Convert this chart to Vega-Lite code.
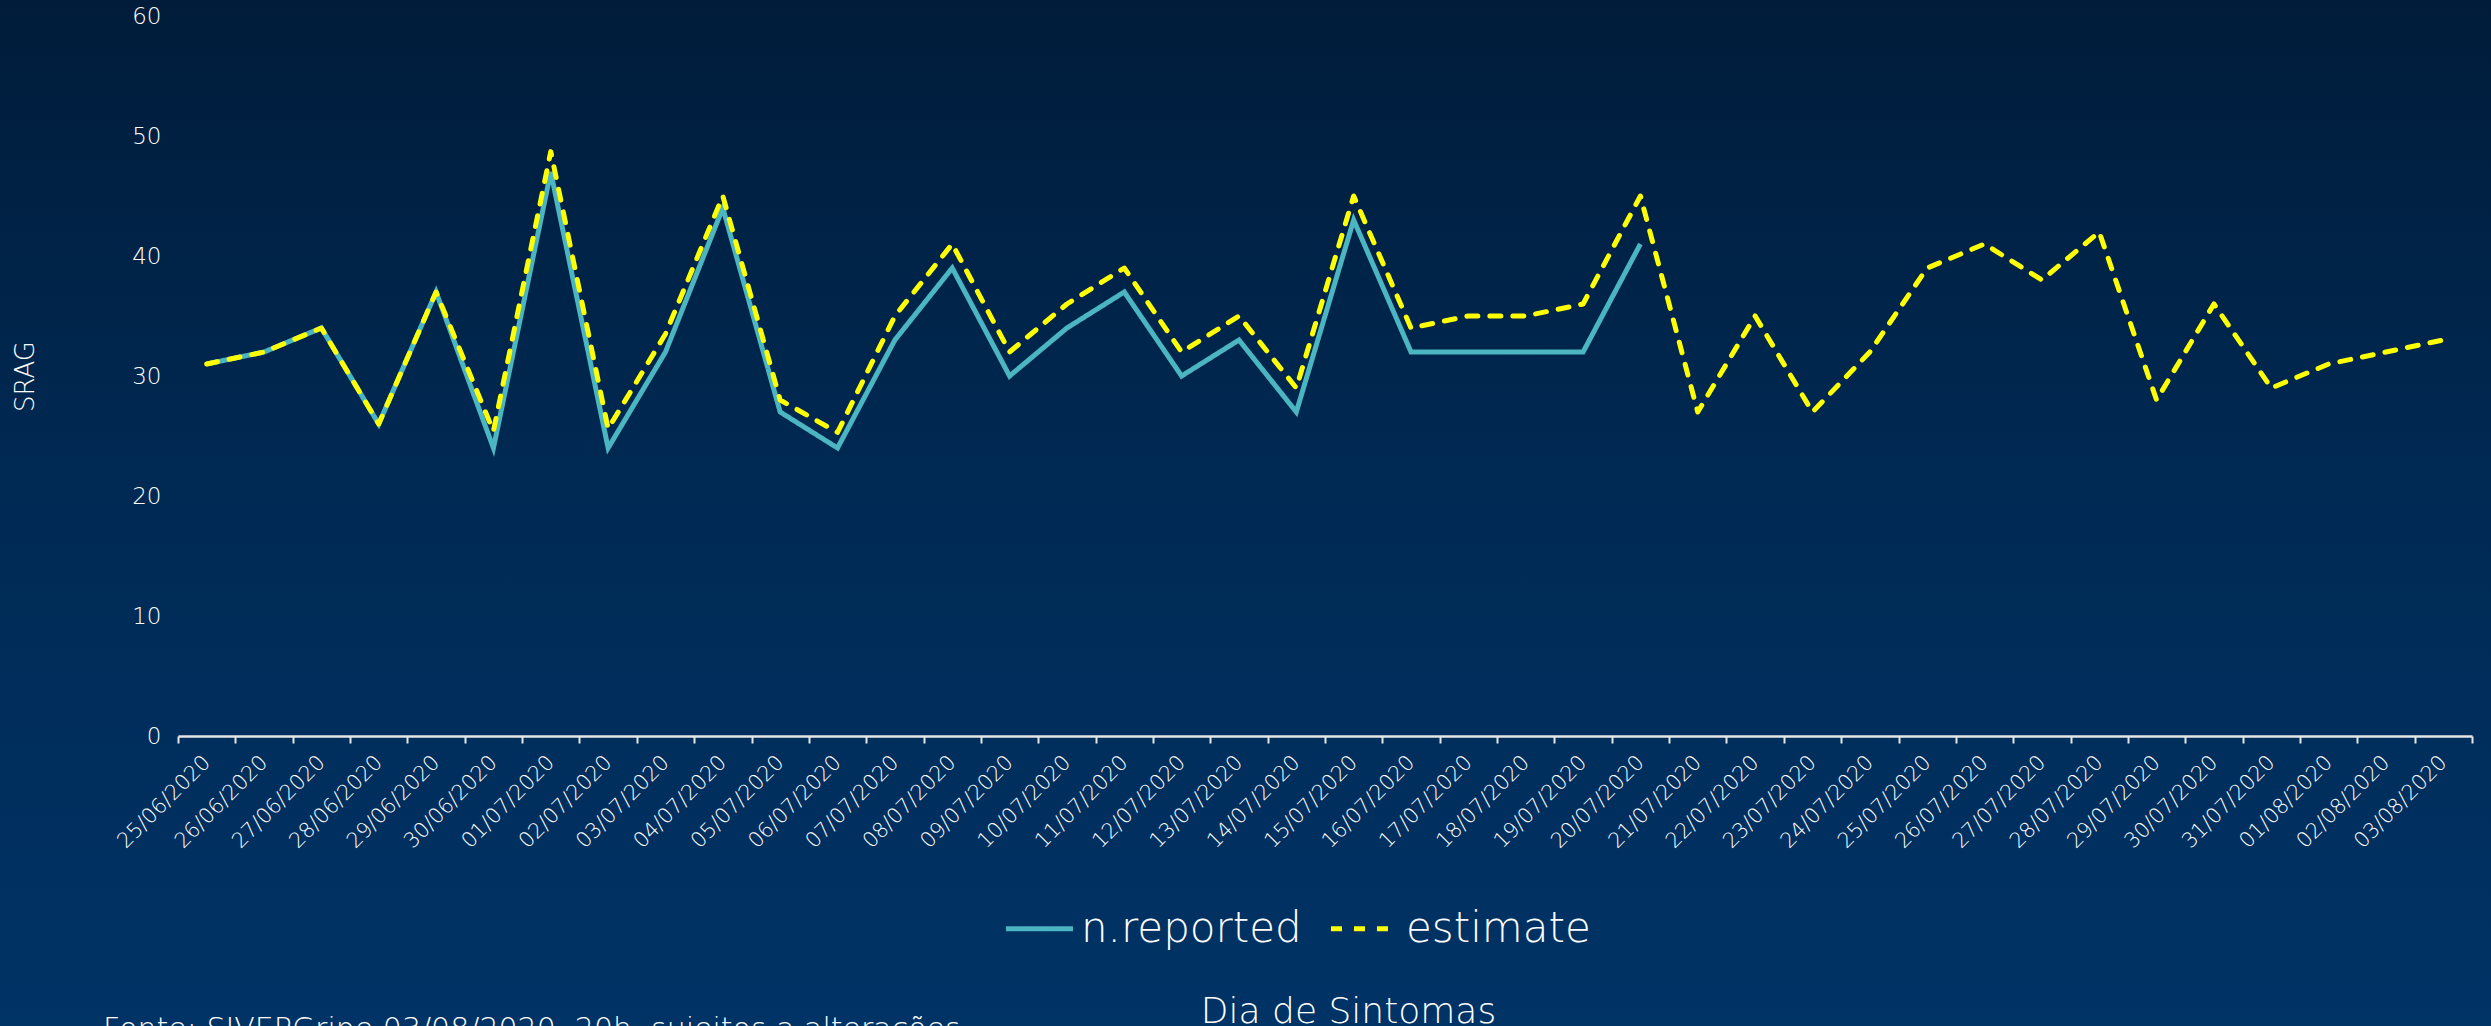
{
  "$schema": "https://vega.github.io/schema/vega-lite/v6.json",
  "width": 2491,
  "height": 1026,
  "autosize": "none",
  "padding": 0,
  "background": "#003366",
  "view": {"stroke": null, "fill": {"gradient": "linear", "x1": 0, "y1": 0, "x2": 0, "y2": 1, "stops": [{"offset": 0, "color": "#001c3a"}, {"offset": 0.5, "color": "#002a55"}, {"offset": 1, "color": "#003366"}]}},
  "config": {"font": "DejaVu Sans"},
  "title": {"text": "Fonte: SIVEPGripe 03/08/2020, 20h, sujeitos a alterações", "orient": "bottom", "anchor": "start", "frame": "group", "dx": 103, "offset": 10, "baseline": "alphabetic", "fontSize": 30, "fontWeight": 200, "color": "#ffffff"},
  "data": {"values": [
    {"date": "25/06/2020", "series": "n.reported", "value": 31},
    {"date": "26/06/2020", "series": "n.reported", "value": 32},
    {"date": "27/06/2020", "series": "n.reported", "value": 34},
    {"date": "28/06/2020", "series": "n.reported", "value": 26},
    {"date": "29/06/2020", "series": "n.reported", "value": 37},
    {"date": "30/06/2020", "series": "n.reported", "value": 24},
    {"date": "01/07/2020", "series": "n.reported", "value": 47},
    {"date": "02/07/2020", "series": "n.reported", "value": 24},
    {"date": "03/07/2020", "series": "n.reported", "value": 32},
    {"date": "04/07/2020", "series": "n.reported", "value": 44},
    {"date": "05/07/2020", "series": "n.reported", "value": 27},
    {"date": "06/07/2020", "series": "n.reported", "value": 24},
    {"date": "07/07/2020", "series": "n.reported", "value": 33},
    {"date": "08/07/2020", "series": "n.reported", "value": 39},
    {"date": "09/07/2020", "series": "n.reported", "value": 30},
    {"date": "10/07/2020", "series": "n.reported", "value": 34},
    {"date": "11/07/2020", "series": "n.reported", "value": 37},
    {"date": "12/07/2020", "series": "n.reported", "value": 30},
    {"date": "13/07/2020", "series": "n.reported", "value": 33},
    {"date": "14/07/2020", "series": "n.reported", "value": 27},
    {"date": "15/07/2020", "series": "n.reported", "value": 43},
    {"date": "16/07/2020", "series": "n.reported", "value": 32},
    {"date": "17/07/2020", "series": "n.reported", "value": 32},
    {"date": "18/07/2020", "series": "n.reported", "value": 32},
    {"date": "19/07/2020", "series": "n.reported", "value": 32},
    {"date": "20/07/2020", "series": "n.reported", "value": 41},
    {"date": "25/06/2020", "series": "estimate", "value": 31},
    {"date": "26/06/2020", "series": "estimate", "value": 32},
    {"date": "27/06/2020", "series": "estimate", "value": 34},
    {"date": "28/06/2020", "series": "estimate", "value": 26},
    {"date": "29/06/2020", "series": "estimate", "value": 37},
    {"date": "30/06/2020", "series": "estimate", "value": 25.4},
    {"date": "01/07/2020", "series": "estimate", "value": 48.7},
    {"date": "02/07/2020", "series": "estimate", "value": 25.6},
    {"date": "03/07/2020", "series": "estimate", "value": 33.5},
    {"date": "04/07/2020", "series": "estimate", "value": 45},
    {"date": "05/07/2020", "series": "estimate", "value": 28},
    {"date": "06/07/2020", "series": "estimate", "value": 25.3},
    {"date": "07/07/2020", "series": "estimate", "value": 35},
    {"date": "08/07/2020", "series": "estimate", "value": 41},
    {"date": "09/07/2020", "series": "estimate", "value": 32},
    {"date": "10/07/2020", "series": "estimate", "value": 36},
    {"date": "11/07/2020", "series": "estimate", "value": 39},
    {"date": "12/07/2020", "series": "estimate", "value": 32},
    {"date": "13/07/2020", "series": "estimate", "value": 35},
    {"date": "14/07/2020", "series": "estimate", "value": 29},
    {"date": "15/07/2020", "series": "estimate", "value": 45},
    {"date": "16/07/2020", "series": "estimate", "value": 34},
    {"date": "17/07/2020", "series": "estimate", "value": 35},
    {"date": "18/07/2020", "series": "estimate", "value": 35},
    {"date": "19/07/2020", "series": "estimate", "value": 36},
    {"date": "20/07/2020", "series": "estimate", "value": 45},
    {"date": "21/07/2020", "series": "estimate", "value": 27},
    {"date": "22/07/2020", "series": "estimate", "value": 35},
    {"date": "23/07/2020", "series": "estimate", "value": 27},
    {"date": "24/07/2020", "series": "estimate", "value": 32},
    {"date": "25/07/2020", "series": "estimate", "value": 39},
    {"date": "26/07/2020", "series": "estimate", "value": 41},
    {"date": "27/07/2020", "series": "estimate", "value": 38},
    {"date": "28/07/2020", "series": "estimate", "value": 42},
    {"date": "29/07/2020", "series": "estimate", "value": 28},
    {"date": "30/07/2020", "series": "estimate", "value": 36},
    {"date": "31/07/2020", "series": "estimate", "value": 29},
    {"date": "01/08/2020", "series": "estimate", "value": 31},
    {"date": "02/08/2020", "series": "estimate", "value": 32},
    {"date": "03/08/2020", "series": "estimate", "value": 33}
  ]},
  "encoding": {
    "x": {
      "field": "date", "type": "ordinal", "sort": null, "bandPosition": 0.5,
      "scale": {"type": "band", "range": [178, 2472], "paddingInner": 0, "paddingOuter": 0},
      "axis": {
        "offset": -290, "tickBand": "extent", "labelAngle": -45, "labelAlign": "right", "labelBaseline": "middle",
        "labelPadding": 16, "tickSize": 7, "tickWidth": 2, "tickColor": "#e6e6e6", "domainColor": "#e6e6e6", "domainWidth": 2.5,
        "labelFontSize": 21, "labelFontWeight": 200, "labelColor": "#ffffff", "grid": false,
        "title": "Dia de Sintomas", "titleFontSize": 36, "titleFontWeight": 200, "titleColor": "#ffffff",
        "titleX": 1348, "titleY": 286, "titleAlign": "center", "titleBaseline": "alphabetic", "labelOverlap": false
      }
    },
    "y": {
      "field": "value", "type": "quantitative",
      "scale": {"domain": [0, 60], "range": [736, 16], "nice": false, "zero": true},
      "axis": {
        "offset": -178, "values": [0, 10, 20, 30, 40, 50, 60], "domain": false, "ticks": false, "tickSize": 0, "grid": false,
        "labelPadding": 17, "labelFontSize": 23, "labelFontWeight": 200, "labelColor": "#ffffff",
        "title": "SRAG", "titleFontSize": 26, "titleFontWeight": 200, "titleColor": "#ffffff",
        "titleX": -153, "titleY": 376, "titleAngle": -90, "titleAlign": "center", "titleBaseline": "middle"
      }
    },
    "color": {
      "field": "series", "type": "nominal",
      "scale": {"domain": ["n.reported", "estimate"], "range": ["#4bb5c1", "#ffff00"]},
      "legend": {
        "orient": "none", "legendX": 1003, "legendY": 892, "direction": "horizontal", "title": null,
        "symbolType": "stroke", "symbolSize": 4500, "symbolStrokeWidth": 5,
        "labelFontSize": 42, "labelFontWeight": 200, "labelColor": "#ffffff", "labelOffset": 5, "labelLimit": 0,
        "columnPadding": 18, "padding": 0
      }
    },
    "strokeDash": {
      "field": "series", "type": "nominal",
      "scale": {"domain": ["n.reported", "estimate"], "range": [[1, 0], [11, 12]]},
      "legend": null
    }
  },
  "layer": [
    {"transform": [{"filter": "datum.series === 'n.reported'"}], "mark": {"type": "line", "strokeWidth": 5, "strokeJoin": "miter"}},
    {"transform": [{"filter": "datum.series === 'estimate'"}], "mark": {"type": "line", "strokeWidth": 5, "strokeCap": "round", "strokeJoin": "round"}}
  ]
}
